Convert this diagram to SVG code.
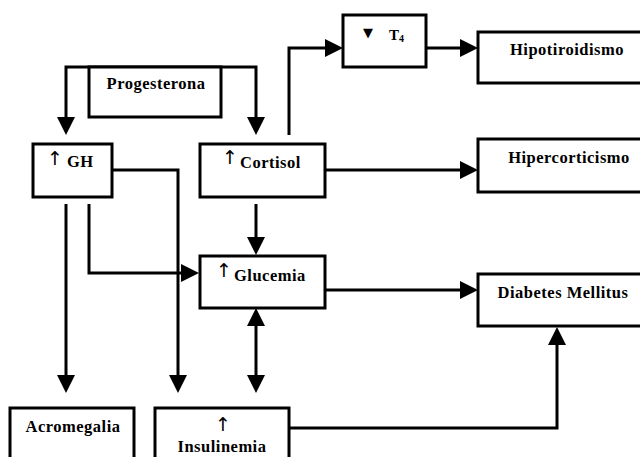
<svg xmlns="http://www.w3.org/2000/svg" width="640" height="457" viewBox="0 0 640 457">
<defs>
<style>
.box{fill:#fff;stroke:#000;stroke-width:3}
.lbl{font-family:"Liberation Serif","Times New Roman",serif;font-weight:bold;font-size:16.5px;fill:#000;letter-spacing:0.5px}
.arr{font-family:"DejaVu Sans",sans-serif;font-weight:normal;font-size:19px;fill:#000}
.conn{fill:none;stroke:#000;stroke-width:3;stroke-linejoin:miter}
</style>
<marker id="ah" viewBox="0 0 18 18" markerWidth="18" markerHeight="18" markerUnits="userSpaceOnUse" refX="0" refY="9" orient="auto-start-reverse">
<path d="M0,0 L18,9 L0,18 z" fill="#000"/>
</marker>
</defs>
<rect width="640" height="457" fill="#fff"/>
<g id="connectors">
<path class="conn" d="M66,117 L66,67 L256,67 L256,117" marker-start="url(#ah)" marker-end="url(#ah)"/>
<path class="conn" d="M289,135 L289,48 L325,48" marker-end="url(#ah)"/>
<path class="conn" d="M426,48 L460,48" marker-end="url(#ah)"/>
<path class="conn" d="M325,170 L460,170" marker-end="url(#ah)"/>
<path class="conn" d="M112,170 L178,170 L178,375" marker-end="url(#ah)"/>
<path class="conn" d="M66,204 L66,375" marker-end="url(#ah)"/>
<path class="conn" d="M89,204 L89,273 L181,273" marker-end="url(#ah)"/>
<path class="conn" d="M256,204 L256,237" marker-end="url(#ah)"/>
<path class="conn" d="M256,326 L256,375" marker-start="url(#ah)" marker-end="url(#ah)"/>
<path class="conn" d="M325,290 L460,290" marker-end="url(#ah)"/>
<path class="conn" d="M290,428 L557,428 L557,345" marker-end="url(#ah)"/>
</g>
<g id="progesterona">
<rect class="box" x="89" y="67" width="132" height="50"/>
<text class="lbl" x="156" y="89" text-anchor="middle">Progesterona</text>
</g>
<g id="gh">
<rect class="box" x="33" y="144" width="79" height="53"/>
<text class="arr" x="55" y="165" text-anchor="middle">↑</text>
<text class="lbl" x="67" y="167">GH</text>
</g>
<g id="cortisol">
<rect class="box" x="200" y="144" width="125" height="53"/>
<text class="arr" x="230" y="164" text-anchor="middle">↑</text>
<text class="lbl" x="240" y="168">Cortisol</text>
</g>
<g id="t4">
<rect class="box" x="343" y="15" width="83" height="52"/>
<text style="font-family:'DejaVu Sans',sans-serif;font-size:13px;fill:#000" x="368" y="37" text-anchor="middle">▼</text>
<text class="lbl" x="389" y="40" style="font-size:15px;letter-spacing:0">T<tspan style="font-size:10px" dy="2">4</tspan></text>
</g>
<g id="hipotiroidismo">
<rect class="box" x="478" y="32" width="170" height="51"/>
<text class="lbl" x="567" y="55" text-anchor="middle">Hipotiroidismo</text>
</g>
<g id="hipercorticismo">
<rect class="box" x="478" y="139" width="170" height="53"/>
<text class="lbl" x="569" y="163" text-anchor="middle">Hipercorticismo</text>
</g>
<g id="glucemia">
<rect class="box" x="200" y="256" width="125" height="52"/>
<text class="arr" x="224" y="277" text-anchor="middle">↑</text>
<text class="lbl" x="234" y="281">Glucemia</text>
</g>
<g id="diabetes">
<rect class="box" x="478" y="274" width="170" height="52"/>
<text class="lbl" x="563" y="298" text-anchor="middle">Diabetes Mellitus</text>
</g>
<g id="acromegalia">
<rect class="box" x="10" y="408" width="124" height="60"/>
<text class="lbl" x="73" y="432" text-anchor="middle">Acromegalia</text>
</g>
<g id="insulinemia">
<rect class="box" x="155" y="408" width="134" height="60"/>
<text class="arr" x="223" y="431" text-anchor="middle">↑</text>
<text class="lbl" x="222" y="452" text-anchor="middle">Insulinemia</text>
</g>
</svg>
